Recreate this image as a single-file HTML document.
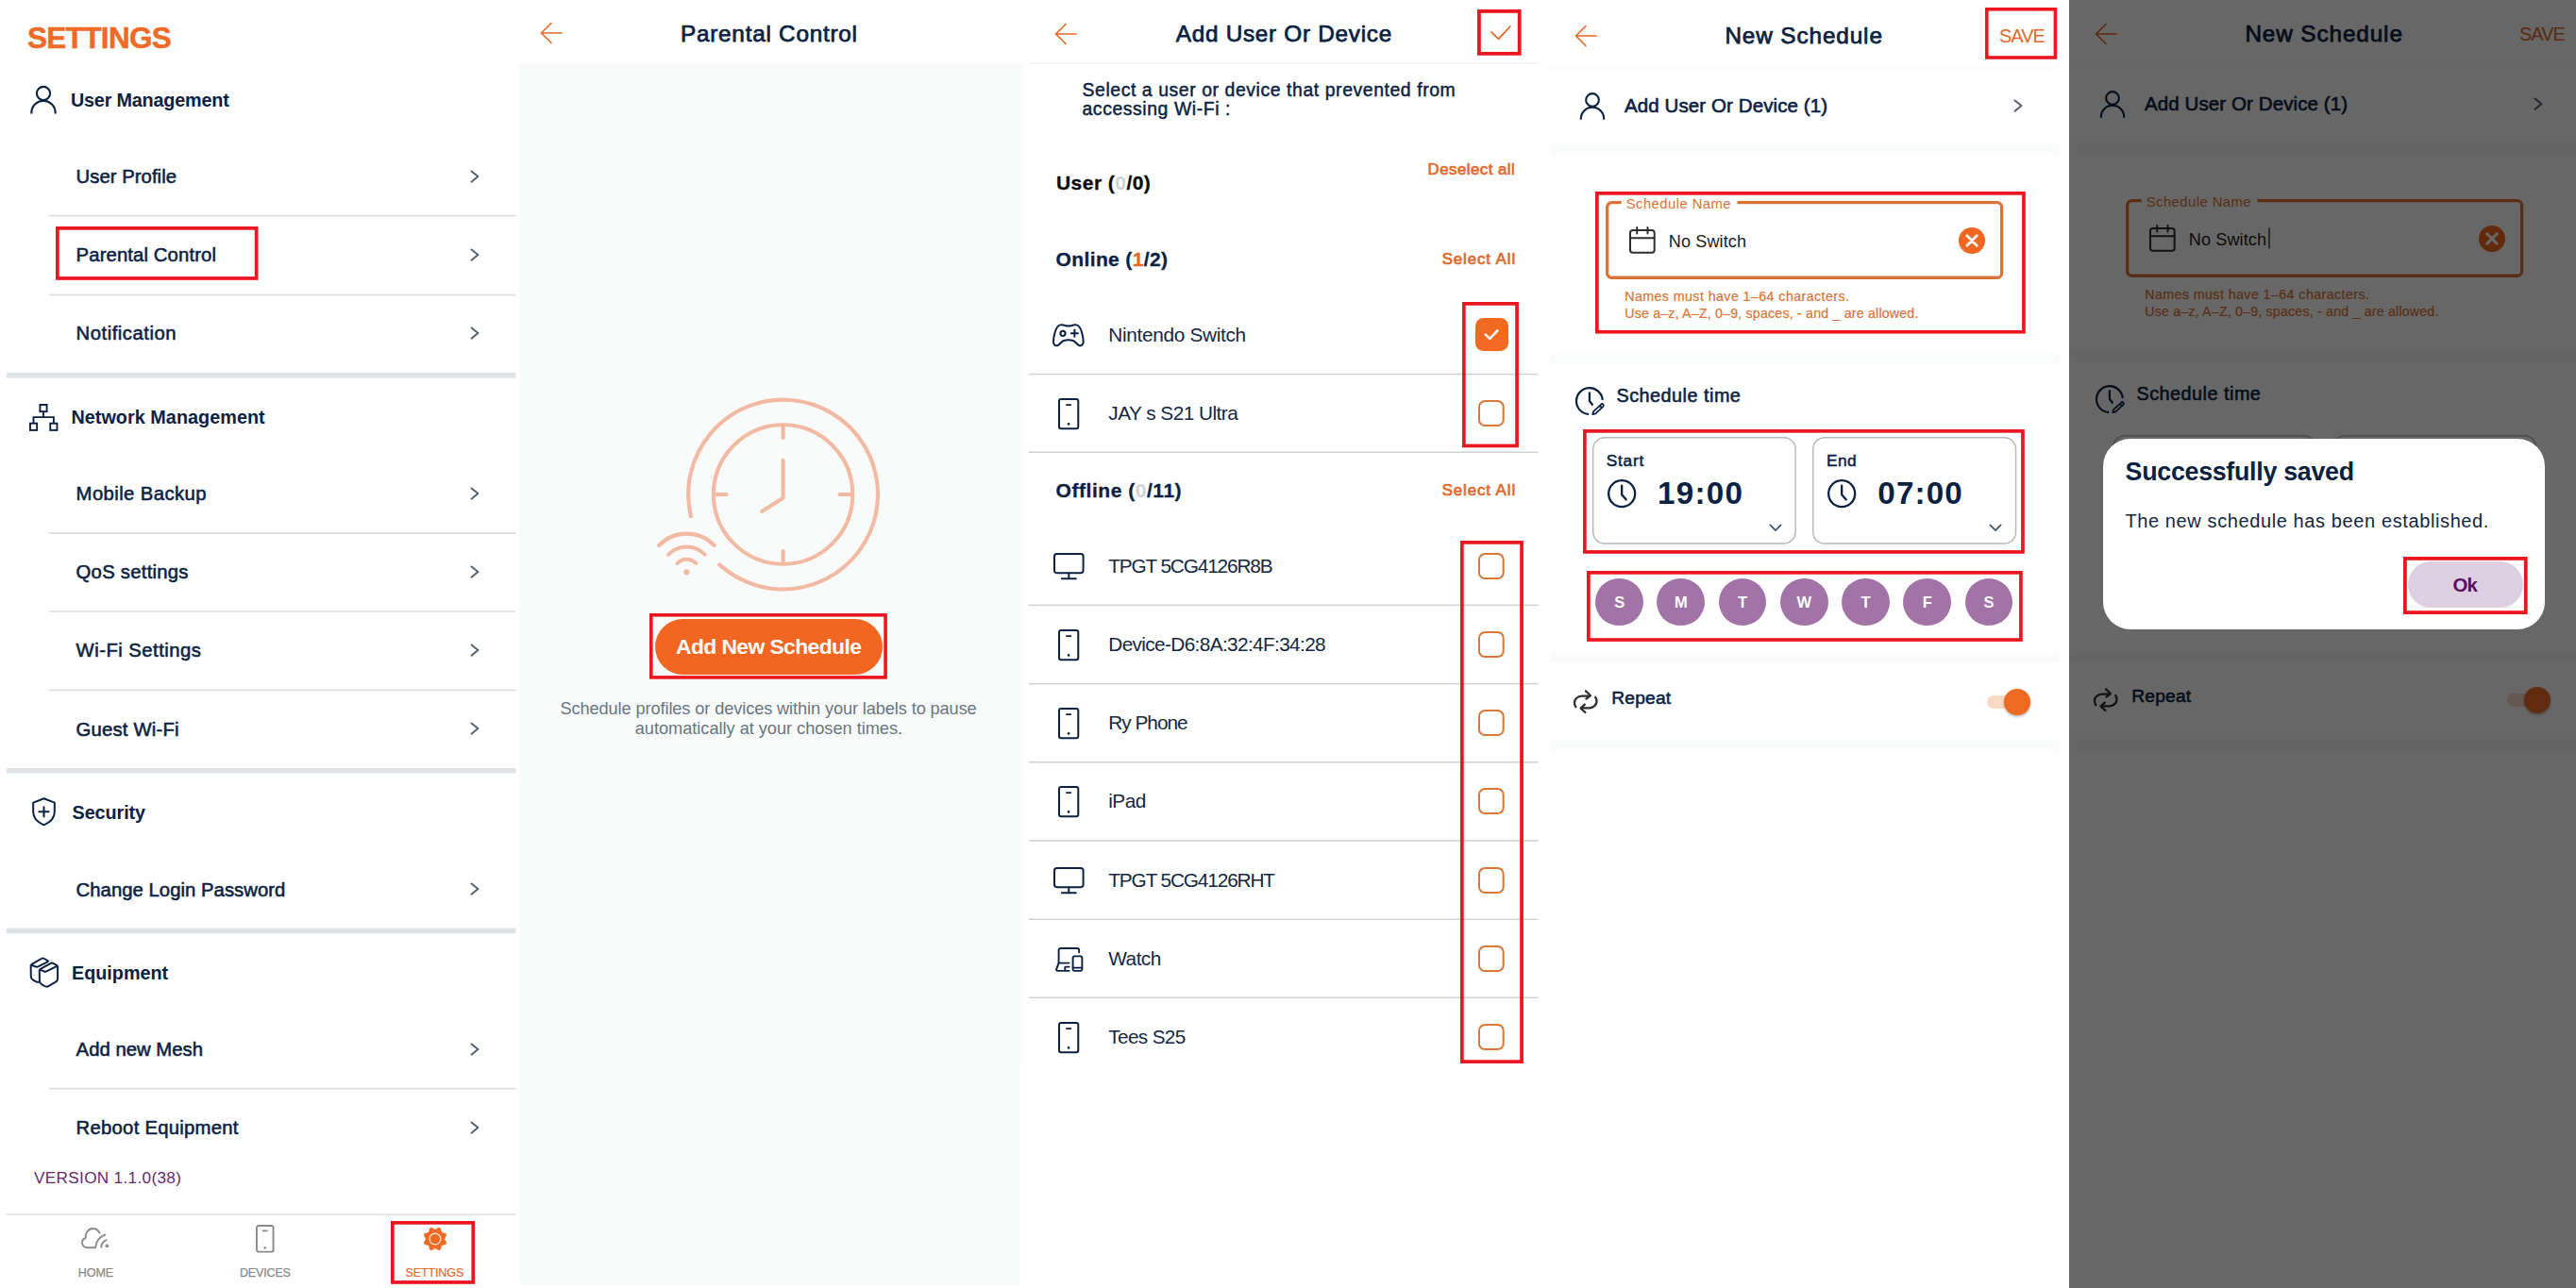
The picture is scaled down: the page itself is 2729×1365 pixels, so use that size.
<!DOCTYPE html>
<html lang="en"><head><meta charset="utf-8"><title>Parental Control - New Schedule</title>
<style>
html,body{margin:0;padding:0;background:#fff;}
body{width:2729px;height:1365px;position:relative;overflow:hidden;font-family:"Liberation Sans",sans-serif;}
.t{position:absolute;white-space:nowrap;margin:0;padding:0;}
.r{position:absolute;box-sizing:border-box;margin:0;padding:0;}
svg{overflow:visible;}
</style></head><body>
<div class="t" style="left:28.90px;top:22px;font-size:31.5px;line-height:36px;color:#f06a27;font-weight:700;letter-spacing:-0.646px;-webkit-text-stroke:0.50px #f06a27;">SETTINGS</div>
<svg class="r" style="left:30.0px;top:87.0px;" width="32.0" height="38.0" viewBox="-16 -12 32 38"><g fill="none" stroke="#0a2142" stroke-width="2.1"><circle cx="0" cy="0" r="7.12"/><path d="M-12.64 21.53 V20.54 A12.64 12.64 0 0 1 12.64 20.54 V21.53"/></g></svg>
<div class="t" style="left:74.90px;top:95px;font-size:19.8px;line-height:22px;color:#0a2142;font-weight:700;letter-spacing:-0.183px;">User Management</div>
<svg class="r" style="left:30.9px;top:427.5px;" width="30.4" height="28.8" viewBox="0 0 30.4 28.8"><g fill="none" stroke="#0a2142" stroke-width="1.9" stroke-linejoin="miter"><rect x="11.4" y="0.95" width="7.2" height="7.2"/><rect x="0.95" y="20.7" width="7.2" height="7.2"/><rect x="22.25" y="20.7" width="7.2" height="7.2"/><path d="M15 8.2 V14.1 M4.5 20.7 V14.1 H25.9 V20.7"/></g></svg>
<div class="t" style="left:75.40px;top:431px;font-size:19.8px;line-height:22px;color:#0a2142;font-weight:700;letter-spacing:0.050px;">Network Management</div>
<svg class="r" style="left:33.6px;top:845.3px;" width="25.0" height="30.5" viewBox="0 0 25 30.5"><g fill="none" stroke="#0a2142" stroke-width="2" stroke-linecap="round" stroke-linejoin="round"><path d="M12.5 1.2 L23.8 5.6 V15.5 C23.8 22 19 26.6 12.5 29.3 C6 26.6 1.2 22 1.2 15.5 V5.6 Z"/><path d="M12.5 10.2 V20.4 M7.4 15.3 H17.6"/></g></svg>
<div class="t" style="left:76.50px;top:850px;font-size:19.8px;line-height:22px;color:#0a2142;font-weight:700;letter-spacing:-0.063px;">Security</div>
<svg class="r" style="left:31.9px;top:1015.1px;" width="29.4" height="32.0" viewBox="0 0 29.4 32"><g fill="none" stroke="#0a2142" stroke-width="2" stroke-linecap="round" stroke-linejoin="round"><path d="M1.82 7.94 Q0.60 7.50 1.73 6.85 L12.27 0.75 Q13.40 0.10 14.52 0.75 L18.48 3.05 Q19.60 3.70 18.44 4.29 L8.46 9.31 Q7.30 9.90 6.08 9.46 Z"/><path d="M0.65 8.30 L0.78 20.10 Q0.80 22.30 2.73 23.35 L6.33 25.32 Q7.40 25.90 8.60 25.70 L9.80 25.50"/><path d="M10.90 12.89 Q9.70 12.40 10.84 11.78 L21.86 5.82 Q23.00 5.20 24.14 5.82 L27.96 7.88 Q29.10 8.50 27.94 9.08 L17.26 14.42 Q16.10 15.00 14.90 14.51 Z"/><path d="M9.75 13.20 L9.96 24.40 Q10.00 26.80 12.04 28.07 L15.16 30.03 Q17.20 31.30 19.28 30.10 L27.02 25.60 Q29.10 24.40 29.10 22.00 L29.10 9.30"/></g></svg>
<div class="t" style="left:76.00px;top:1020px;font-size:19.8px;line-height:22px;color:#0a2142;font-weight:700;letter-spacing:-0.012px;">Equipment</div>
<div class="t" style="left:80.60px;top:176px;font-size:20.3px;line-height:22px;color:#0a2142;letter-spacing:0.041px;-webkit-text-stroke:0.55px #0a2142;">User Profile</div>
<svg class="r" style="left:497.2px;top:178.9px;" width="11.9" height="16.2" viewBox="-2.000000 -2.000000 11.900000 16.200000"><path d="M0.5 0.5 L7.40 6.10 L0.5 11.70" fill="none" stroke="#56616f" stroke-width="2" stroke-linecap="round" stroke-linejoin="round"/></svg>
<div class="t" style="left:80.60px;top:259px;font-size:20.3px;line-height:22px;color:#0a2142;letter-spacing:0.120px;-webkit-text-stroke:0.55px #0a2142;">Parental Control</div>
<svg class="r" style="left:497.2px;top:262.1px;" width="11.9" height="16.2" viewBox="-2.000000 -2.000000 11.900000 16.200000"><path d="M0.5 0.5 L7.40 6.10 L0.5 11.70" fill="none" stroke="#56616f" stroke-width="2" stroke-linecap="round" stroke-linejoin="round"/></svg>
<div class="t" style="left:80.60px;top:342px;font-size:20.3px;line-height:22px;color:#0a2142;letter-spacing:0.507px;-webkit-text-stroke:0.55px #0a2142;">Notification</div>
<svg class="r" style="left:497.2px;top:345.2px;" width="11.9" height="16.2" viewBox="-2.000000 -2.000000 11.900000 16.200000"><path d="M0.5 0.5 L7.40 6.10 L0.5 11.70" fill="none" stroke="#56616f" stroke-width="2" stroke-linecap="round" stroke-linejoin="round"/></svg>
<div class="t" style="left:80.60px;top:512px;font-size:20.3px;line-height:22px;color:#0a2142;letter-spacing:0.404px;-webkit-text-stroke:0.55px #0a2142;">Mobile Backup</div>
<svg class="r" style="left:497.2px;top:514.9px;" width="11.9" height="16.2" viewBox="-2.000000 -2.000000 11.900000 16.200000"><path d="M0.5 0.5 L7.40 6.10 L0.5 11.70" fill="none" stroke="#56616f" stroke-width="2" stroke-linecap="round" stroke-linejoin="round"/></svg>
<div class="t" style="left:80.60px;top:595px;font-size:20.3px;line-height:22px;color:#0a2142;letter-spacing:0.253px;-webkit-text-stroke:0.55px #0a2142;">QoS settings</div>
<svg class="r" style="left:497.2px;top:598.3px;" width="11.9" height="16.2" viewBox="-2.000000 -2.000000 11.900000 16.200000"><path d="M0.5 0.5 L7.40 6.10 L0.5 11.70" fill="none" stroke="#56616f" stroke-width="2" stroke-linecap="round" stroke-linejoin="round"/></svg>
<div class="t" style="left:80.60px;top:678px;font-size:20.3px;line-height:22px;color:#0a2142;letter-spacing:0.474px;-webkit-text-stroke:0.55px #0a2142;">Wi-Fi Settings</div>
<svg class="r" style="left:497.2px;top:680.9px;" width="11.9" height="16.2" viewBox="-2.000000 -2.000000 11.900000 16.200000"><path d="M0.5 0.5 L7.40 6.10 L0.5 11.70" fill="none" stroke="#56616f" stroke-width="2" stroke-linecap="round" stroke-linejoin="round"/></svg>
<div class="t" style="left:80.60px;top:762px;font-size:20.3px;line-height:22px;color:#0a2142;letter-spacing:0.186px;-webkit-text-stroke:0.55px #0a2142;">Guest Wi-Fi</div>
<svg class="r" style="left:497.2px;top:764.4px;" width="11.9" height="16.2" viewBox="-2.000000 -2.000000 11.900000 16.200000"><path d="M0.5 0.5 L7.40 6.10 L0.5 11.70" fill="none" stroke="#56616f" stroke-width="2" stroke-linecap="round" stroke-linejoin="round"/></svg>
<div class="t" style="left:80.60px;top:932px;font-size:20.3px;line-height:22px;color:#0a2142;letter-spacing:0.040px;-webkit-text-stroke:0.55px #0a2142;">Change Login Password</div>
<svg class="r" style="left:497.2px;top:934.4px;" width="11.9" height="16.2" viewBox="-2.000000 -2.000000 11.900000 16.200000"><path d="M0.5 0.5 L7.40 6.10 L0.5 11.70" fill="none" stroke="#56616f" stroke-width="2" stroke-linecap="round" stroke-linejoin="round"/></svg>
<div class="t" style="left:80.60px;top:1101px;font-size:20.3px;line-height:22px;color:#0a2142;letter-spacing:0.020px;-webkit-text-stroke:0.55px #0a2142;">Add new Mesh</div>
<svg class="r" style="left:497.2px;top:1103.7px;" width="11.9" height="16.2" viewBox="-2.000000 -2.000000 11.900000 16.200000"><path d="M0.5 0.5 L7.40 6.10 L0.5 11.70" fill="none" stroke="#56616f" stroke-width="2" stroke-linecap="round" stroke-linejoin="round"/></svg>
<div class="t" style="left:80.60px;top:1184px;font-size:20.3px;line-height:22px;color:#0a2142;letter-spacing:0.256px;-webkit-text-stroke:0.55px #0a2142;">Reboot Equipment</div>
<svg class="r" style="left:497.2px;top:1186.6px;" width="11.9" height="16.2" viewBox="-2.000000 -2.000000 11.900000 16.200000"><path d="M0.5 0.5 L7.40 6.10 L0.5 11.70" fill="none" stroke="#56616f" stroke-width="2" stroke-linecap="round" stroke-linejoin="round"/></svg>
<svg class="r" style="left:50px;top:226px" width="498" height="5" viewBox="50 226 498 5"><rect x="51.60" y="227.75" width="494.90" height="1.70" fill="#dddfe1"/></svg>
<svg class="r" style="left:50px;top:310px" width="498" height="5" viewBox="50 310 498 5"><rect x="51.60" y="311.65" width="494.90" height="1.70" fill="#dddfe1"/></svg>
<svg class="r" style="left:50px;top:563px" width="498" height="4" viewBox="50 563 498 4"><rect x="51.60" y="564.15" width="494.90" height="1.70" fill="#dddfe1"/></svg>
<svg class="r" style="left:50px;top:646px" width="498" height="4" viewBox="50 646 498 4"><rect x="51.60" y="647.15" width="494.90" height="1.70" fill="#dddfe1"/></svg>
<svg class="r" style="left:50px;top:729px" width="498" height="5" viewBox="50 729 498 5"><rect x="51.60" y="730.55" width="494.90" height="1.70" fill="#dddfe1"/></svg>
<svg class="r" style="left:50px;top:1151px" width="498" height="5" viewBox="50 1151 498 5"><rect x="51.60" y="1152.75" width="494.90" height="1.70" fill="#dddfe1"/></svg>
<svg class="r" style="left:6px;top:394px" width="542" height="8" viewBox="6 394 542 8"><rect x="7.00" y="395.00" width="539.50" height="5.70" fill="#dee2e5"/></svg>
<svg class="r" style="left:6px;top:813px" width="542" height="8" viewBox="6 813 542 8"><rect x="7.00" y="814.00" width="539.50" height="5.30" fill="#dee2e5"/></svg>
<svg class="r" style="left:6px;top:982px" width="542" height="9" viewBox="6 982 542 9"><rect x="7.00" y="983.60" width="539.50" height="5.60" fill="#dee2e5"/></svg>
<svg class="r" style="left:59.10px;top:239.70px;" width="214.50" height="56.80" viewBox="0 0 214.50 56.80"><rect x="1.85" y="1.85" width="210.80" height="53.10" rx="0.00" fill="none" stroke="#eb1620" stroke-width="3.70"/></svg>
<div class="t" style="left:36.00px;top:1238px;font-size:17.2px;line-height:20px;color:#6a2a68;letter-spacing:0.310px;">VERSION 1.1.0(38)</div>
<svg class="r" style="left:6px;top:1285px" width="542" height="4" viewBox="6 1285 542 4"><rect x="7.00" y="1286.00" width="539.50" height="2.00" fill="#e6e6e6"/></svg>
<svg class="r" style="left:85.5px;top:1301.3px;" width="29.4" height="22.3" viewBox="0 0 29.4 22.3"><g fill="none" stroke="#8a8a8a" stroke-width="1.9" stroke-linecap="round" stroke-linejoin="round"><path d="M15 21.3 H6.6 C3.4 21.3 1 19 1 16 C1 13.6 2.4 11.8 4.6 11 C4.2 5.6 7.6 1 12.4 1 C15.6 1 18.2 2.8 19.4 5.6"/><path d="M15.2 21 C15.8 14.6 19.8 9.6 25.4 7.4"/><path d="M21.2 20.6 C21.6 17.4 23.6 14.6 26.6 13.2"/></g><circle cx="27.3" cy="19.4" r="1.8" fill="#8a8a8a"/></svg>
<div class="t" style="left:82.75px;top:1342px;font-size:12.6px;line-height:14px;color:#8a8a8a;letter-spacing:-0.100px;-webkit-text-stroke:0.25px #8a8a8a;">HOME</div>
<svg class="r" style="left:270.9px;top:1298.0px;" width="19.5" height="29.6" viewBox="0 0 19.5 29.6"><rect x="0.95" y="0.95" width="17.6" height="27.700000000000003" rx="2.2" fill="none" stroke="#8a8a8a" stroke-width="1.9"/><path d="M7.55 6.3048 H11.95" stroke="#8a8a8a" stroke-width="1.71" stroke-linecap="round"/><circle cx="9.75" cy="24.4496" r="1.3" fill="#8a8a8a"/></svg>
<div class="t" style="left:254.00px;top:1342px;font-size:12.6px;line-height:14px;color:#8a8a8a;letter-spacing:-0.220px;-webkit-text-stroke:0.25px #8a8a8a;">DEVICES</div>
<svg class="r" style="left:446.7px;top:1298.6px;" width="28.0" height="28.0" viewBox="-14 -14 28 28"><path d="M10.20 0.00 L10.22 0.40 L10.30 0.81 L10.47 1.24 L10.78 1.71 L11.23 2.23 L11.65 2.80 L11.90 3.36 L11.96 3.89 L11.89 4.39 L11.73 4.86 L11.51 5.31 L11.20 5.71 L10.79 6.04 L10.22 6.26 L9.52 6.36 L8.83 6.42 L8.28 6.52 L7.85 6.71 L7.51 6.94 L7.21 7.21 L6.94 7.51 L6.71 7.85 L6.52 8.28 L6.42 8.83 L6.36 9.52 L6.26 10.22 L6.04 10.79 L5.71 11.20 L5.31 11.51 L4.86 11.73 L4.39 11.89 L3.89 11.96 L3.36 11.90 L2.80 11.65 L2.23 11.23 L1.71 10.78 L1.24 10.47 L0.81 10.30 L0.40 10.22 L0.00 10.20 L-0.40 10.22 L-0.81 10.30 L-1.24 10.47 L-1.71 10.78 L-2.23 11.23 L-2.80 11.65 L-3.36 11.90 L-3.89 11.96 L-4.39 11.89 L-4.86 11.73 L-5.31 11.51 L-5.71 11.20 L-6.04 10.79 L-6.26 10.22 L-6.36 9.52 L-6.42 8.83 L-6.52 8.28 L-6.71 7.85 L-6.94 7.51 L-7.21 7.21 L-7.51 6.94 L-7.85 6.71 L-8.28 6.52 L-8.83 6.42 L-9.52 6.36 L-10.22 6.26 L-10.79 6.04 L-11.20 5.71 L-11.51 5.31 L-11.73 4.86 L-11.89 4.39 L-11.96 3.89 L-11.90 3.36 L-11.65 2.80 L-11.23 2.23 L-10.78 1.71 L-10.47 1.24 L-10.30 0.81 L-10.22 0.40 L-10.20 0.00 L-10.22 -0.40 L-10.30 -0.81 L-10.47 -1.24 L-10.78 -1.71 L-11.23 -2.23 L-11.65 -2.80 L-11.90 -3.36 L-11.96 -3.89 L-11.89 -4.39 L-11.73 -4.86 L-11.51 -5.31 L-11.20 -5.71 L-10.79 -6.04 L-10.22 -6.26 L-9.52 -6.36 L-8.83 -6.42 L-8.28 -6.52 L-7.85 -6.71 L-7.51 -6.94 L-7.21 -7.21 L-6.94 -7.51 L-6.71 -7.85 L-6.52 -8.28 L-6.42 -8.83 L-6.36 -9.52 L-6.26 -10.22 L-6.04 -10.79 L-5.71 -11.20 L-5.31 -11.51 L-4.86 -11.73 L-4.39 -11.89 L-3.89 -11.96 L-3.36 -11.90 L-2.80 -11.65 L-2.23 -11.23 L-1.71 -10.78 L-1.24 -10.47 L-0.81 -10.30 L-0.40 -10.22 L-0.00 -10.20 L0.40 -10.22 L0.81 -10.30 L1.24 -10.47 L1.71 -10.78 L2.23 -11.23 L2.80 -11.65 L3.36 -11.90 L3.89 -11.96 L4.39 -11.89 L4.86 -11.73 L5.31 -11.51 L5.71 -11.20 L6.04 -10.79 L6.26 -10.22 L6.36 -9.52 L6.42 -8.83 L6.52 -8.28 L6.71 -7.85 L6.94 -7.51 L7.21 -7.21 L7.51 -6.94 L7.85 -6.71 L8.28 -6.52 L8.83 -6.42 L9.52 -6.36 L10.22 -6.26 L10.79 -6.04 L11.20 -5.71 L11.51 -5.31 L11.73 -4.86 L11.89 -4.39 L11.96 -3.89 L11.90 -3.36 L11.65 -2.80 L11.23 -2.23 L10.78 -1.71 L10.47 -1.24 L10.30 -0.81 L10.22 -0.40 Z" fill="#f26a23"/><circle cx="0" cy="0" r="5.9" fill="none" stroke="#fff3e6" stroke-width="1.2"/></svg>
<div class="t" style="left:429.40px;top:1342px;font-size:12.6px;line-height:14px;color:#e2692d;letter-spacing:-0.144px;-webkit-text-stroke:0.20px #e2692d;">SETTINGS</div>
<svg class="r" style="left:414.00px;top:1294.30px;" width="89.10" height="66.80" viewBox="0 0 89.10 66.80"><rect x="1.85" y="1.85" width="85.40" height="63.10" rx="0.00" fill="none" stroke="#eb1620" stroke-width="3.70"/></svg>
<div class="r" style="left:550.3px;top:67.0px;width:533.4px;height:1061.0px;background:#f9fbfb;"></div>
<div class="r" style="left:550.3px;top:1128.0px;width:530.1px;height:233.5px;background:#f9fbfb;"></div>
<svg class="r" style="left:571.0px;top:22.4px;" width="28.0" height="26.0" viewBox="-2 -13 28 26"><path d="M22 0 H0.8 M11 -10.5 L0.5 0 L11 10.5" fill="none" stroke="#e8692a" stroke-width="1.7" stroke-linecap="round" stroke-linejoin="round"/></svg>
<div class="t" style="left:721.00px;top:22px;font-size:24.3px;line-height:27px;color:#0a2142;letter-spacing:0.760px;-webkit-text-stroke:0.75px #0a2142;">Parental Control</div>
<svg class="r" style="left:650.0px;top:400.0px;" width="310.0" height="250.0" viewBox="650 400 310 250"><g fill="none" stroke="#f2baa2" stroke-width="4.1" stroke-linecap="round" stroke-linejoin="round"><path d="M731.93 547.27 A100.4 100.4 0 1 1 762.16 598.38"/><circle cx="829.6" cy="524.0" r="73.7"/><path d="M829.6 453.0 V464.0 M829.6 584.0 V595.0 M758.6 524.0 H769.6 M889.6 524.0 H900.6"/><path d="M829.6 487.8 V527.8 L807.1 541.9"/><path d="M717.62 596.85 A13.6 13.6 0 0 1 737.18 596.85"/><path d="M708.12 587.68 A26.8 26.8 0 0 1 746.68 587.68"/><path d="M698.12 578.03 A40.7 40.7 0 0 1 756.68 578.03"/></g><circle cx="727.4" cy="606.3" r="3.1" fill="#f2baa2"/></svg>
<div class="r" style="left:693.6px;top:655.8px;width:241.1px;height:59.2px;background:#f26622;border-radius:30.0px;"></div>
<div class="t" style="left:716.00px;top:672px;font-size:22.9px;line-height:26px;color:#ffffff;font-weight:700;letter-spacing:-0.609px;">Add New Schedule</div>
<svg class="r" style="left:688.40px;top:649.80px;" width="251.90" height="69.70" viewBox="0 0 251.90 69.70"><rect x="1.80" y="1.80" width="248.30" height="66.10" rx="0.00" fill="none" stroke="#eb1620" stroke-width="3.60"/></svg>
<div class="t" style="left:593.55px;top:741px;font-size:18.2px;line-height:20px;color:#697682;letter-spacing:-0.103px;">Schedule profiles or devices within your labels to pause</div>
<div class="t" style="left:672.75px;top:762px;font-size:18.2px;line-height:20px;color:#697682;letter-spacing:-0.022px;">automatically at your chosen times.</div>
<svg class="r" style="left:1116.0px;top:22.6px;" width="28.0" height="26.0" viewBox="-2 -13 28 26"><path d="M22 0 H0.8 M11 -10.5 L0.5 0 L11 10.5" fill="none" stroke="#e8692a" stroke-width="1.7" stroke-linecap="round" stroke-linejoin="round"/></svg>
<div class="t" style="left:1245.75px;top:22px;font-size:24.3px;line-height:27px;color:#0a2142;letter-spacing:0.731px;-webkit-text-stroke:0.75px #0a2142;">Add User Or Device</div>
<svg class="r" style="left:1578.2px;top:26.3px;" width="23.8" height="17.3" viewBox="-2 -2 23.799999999999955 17.3"><path d="M0 5.852 L7.523999999999983 13.3 L19.799999999999955 0" fill="none" stroke="#e8692a" stroke-width="1.8" stroke-linecap="round" stroke-linejoin="round"/></svg>
<svg class="r" style="left:1565.10px;top:10.05px;" width="46.60" height="48.75" viewBox="0 0 46.60 48.75"><rect x="1.90" y="1.90" width="42.80" height="44.95" rx="0.00" fill="none" stroke="#eb1620" stroke-width="3.80"/></svg>
<svg class="r" style="left:1089px;top:65px" width="542" height="4" viewBox="1089 65 542 4"><rect x="1090.00" y="66.00" width="540.00" height="2.00" fill="#f4f6f6"/></svg>
<div class="t" style="left:1146.50px;top:84px;font-size:19.4px;line-height:22px;color:#0a2142;letter-spacing:0.582px;-webkit-text-stroke:0.45px #0a2142;">Select a user or device that prevented from</div>
<div class="t" style="left:1146.50px;top:104px;font-size:19.4px;line-height:22px;color:#0a2142;letter-spacing:0.582px;-webkit-text-stroke:0.45px #0a2142;">accessing Wi-Fi :</div>
<div class="t" style="left:1119.00px;top:182px;font-size:21.0px;line-height:23px;color:#0a0a0a;font-weight:700;letter-spacing:0.454px;-webkit-text-stroke:0.30px #0a0a0a;">User (<span style="color:#cfd3d7;-webkit-text-stroke:0">0</span>/0)</div>
<div class="t" style="left:1512.60px;top:170px;font-size:16.8px;line-height:19px;color:#e2692d;letter-spacing:0.487px;-webkit-text-stroke:0.70px #e2692d;">Deselect all</div>
<div class="t" style="left:1118.60px;top:263px;font-size:21.0px;line-height:23px;color:#0a2142;font-weight:700;letter-spacing:0.368px;-webkit-text-stroke:0.30px #0a2142;">Online (<span style="color:#e8652a;-webkit-text-stroke-color:#e8652a">1</span>/2)</div>
<div class="t" style="left:1527.70px;top:265px;font-size:16.8px;line-height:19px;color:#e2692d;letter-spacing:0.933px;-webkit-text-stroke:0.70px #e2692d;">Select All</div>
<div class="t" style="left:1118.60px;top:508px;font-size:21.0px;line-height:23px;color:#0a2142;font-weight:700;letter-spacing:0.536px;-webkit-text-stroke:0.30px #0a2142;">Offline (<span style="color:#cfd3d7;-webkit-text-stroke:0">0</span>/11)</div>
<div class="t" style="left:1527.70px;top:510px;font-size:16.8px;line-height:19px;color:#e2692d;letter-spacing:0.933px;-webkit-text-stroke:0.70px #e2692d;">Select All</div>
<div class="t" style="left:1174.30px;top:343px;font-size:20.8px;line-height:23px;color:#15263f;letter-spacing:-0.315px;">Nintendo Switch</div>
<svg class="r" style="left:1115.2px;top:342.7px;" width="33.7" height="24.5" viewBox="0 0 33.7 24.5"><g fill="none" stroke="#0a2142" stroke-width="2" stroke-linecap="round" stroke-linejoin="round"><path d="M8.2 1.4 C10 0.9 11.8 1.4 13.4 2 C15.6 2.6 18.1 2.6 20.3 2 C21.9 1.4 23.7 0.9 25.5 1.4 C28.6 2.3 30.3 6 31.3 10 C32.4 14.4 33 18.4 32.5 20.6 C32 23 29.6 24 27.7 22.9 C25.6 21.7 24.4 18.9 21.8 18 C19.4 17.2 14.3 17.2 11.9 18 C9.3 18.9 8.1 21.7 6 22.9 C4.1 24 1.7 23 1.2 20.6 C0.7 18.4 1.3 14.4 2.4 10 C3.4 6 5.1 2.3 8.2 1.4 Z"/><circle cx="11" cy="10.3" r="2.6"/><path d="M23.4 6.6 V13.8 M19.8 10.2 H27"/></g></svg>
<div class="r" style="left:1562.9px;top:337.1px;width:35.0px;height:35.0px;background:#f26a21;border-radius:8.5px;"></div>
<svg class="r" style="left:1568.0px;top:344.8px;" width="24.0" height="20.0" viewBox="-12 -10 24 20"><path d="M-6.2 -0.4 L-1.7 3.9 L6.3 -4.5" fill="none" stroke="#fff" stroke-width="2.6" stroke-linecap="round" stroke-linejoin="round"/></svg>
<div class="t" style="left:1174.30px;top:426px;font-size:20.8px;line-height:23px;color:#15263f;letter-spacing:-0.528px;">JAY s S21 Ultra</div>
<svg class="r" style="left:1121.2px;top:421.5px;" width="22.3" height="33.2" viewBox="0 0 22.3 33.2"><rect x="1.0" y="1.0" width="20.3" height="31.200000000000003" rx="2.2" fill="none" stroke="#0a2142" stroke-width="2.0"/><path d="M8.95 7.0716 H13.350000000000001" stroke="#0a2142" stroke-width="1.8" stroke-linecap="round"/><circle cx="11.15" cy="27.4232" r="1.3" fill="#0a2142"/></svg>
<svg class="r" style="left:1566.30px;top:423.85px;" width="27.70" height="28.10" viewBox="0 0 27.70 28.10"><rect x="1.00" y="1.00" width="25.70" height="26.10" rx="6.20" fill="none" stroke="#dc7637" stroke-width="2.00"/></svg>
<div class="t" style="left:1174.30px;top:588px;font-size:20.8px;line-height:23px;color:#15263f;letter-spacing:-1.148px;">TPGT 5CG4126R8B</div>
<svg class="r" style="left:1116.1px;top:586.0px;" width="32.6" height="28.2" viewBox="0 0 32.6 28.2"><g fill="none" stroke="#0a2142" stroke-width="2" stroke-linecap="round" stroke-linejoin="round"><rect x="1" y="1" width="30.6" height="20.2" rx="2.6"/><path d="M16.3 21.4 V27 M8.8 27.2 H23.8"/></g></svg>
<svg class="r" style="left:1566.30px;top:585.75px;" width="27.70" height="28.10" viewBox="0 0 27.70 28.10"><rect x="1.00" y="1.00" width="25.70" height="26.10" rx="6.20" fill="none" stroke="#dc7637" stroke-width="2.00"/></svg>
<div class="t" style="left:1174.30px;top:671px;font-size:20.8px;line-height:23px;color:#15263f;letter-spacing:-0.640px;">Device-D6:8A:32:4F:34:28</div>
<svg class="r" style="left:1121.2px;top:666.6px;" width="22.3" height="33.2" viewBox="0 0 22.3 33.2"><rect x="1.0" y="1.0" width="20.3" height="31.200000000000003" rx="2.2" fill="none" stroke="#0a2142" stroke-width="2.0"/><path d="M8.95 7.0716 H13.350000000000001" stroke="#0a2142" stroke-width="1.8" stroke-linecap="round"/><circle cx="11.15" cy="27.4232" r="1.3" fill="#0a2142"/></svg>
<svg class="r" style="left:1566.30px;top:668.95px;" width="27.70" height="28.10" viewBox="0 0 27.70 28.10"><rect x="1.00" y="1.00" width="25.70" height="26.10" rx="6.20" fill="none" stroke="#dc7637" stroke-width="2.00"/></svg>
<div class="t" style="left:1174.30px;top:754px;font-size:20.8px;line-height:23px;color:#15263f;letter-spacing:-1.007px;">Ry Phone</div>
<svg class="r" style="left:1121.2px;top:749.9px;" width="22.3" height="33.2" viewBox="0 0 22.3 33.2"><rect x="1.0" y="1.0" width="20.3" height="31.200000000000003" rx="2.2" fill="none" stroke="#0a2142" stroke-width="2.0"/><path d="M8.95 7.0716 H13.350000000000001" stroke="#0a2142" stroke-width="1.8" stroke-linecap="round"/><circle cx="11.15" cy="27.4232" r="1.3" fill="#0a2142"/></svg>
<svg class="r" style="left:1566.30px;top:752.25px;" width="27.70" height="28.10" viewBox="0 0 27.70 28.10"><rect x="1.00" y="1.00" width="25.70" height="26.10" rx="6.20" fill="none" stroke="#dc7637" stroke-width="2.00"/></svg>
<div class="t" style="left:1174.30px;top:837px;font-size:20.8px;line-height:23px;color:#15263f;letter-spacing:-0.544px;">iPad</div>
<svg class="r" style="left:1121.2px;top:833.0px;" width="22.3" height="33.2" viewBox="0 0 22.3 33.2"><rect x="1.0" y="1.0" width="20.3" height="31.200000000000003" rx="2.2" fill="none" stroke="#0a2142" stroke-width="2.0"/><path d="M8.95 7.0716 H13.350000000000001" stroke="#0a2142" stroke-width="1.8" stroke-linecap="round"/><circle cx="11.15" cy="27.4232" r="1.3" fill="#0a2142"/></svg>
<svg class="r" style="left:1566.30px;top:835.35px;" width="27.70" height="28.10" viewBox="0 0 27.70 28.10"><rect x="1.00" y="1.00" width="25.70" height="26.10" rx="6.20" fill="none" stroke="#dc7637" stroke-width="2.00"/></svg>
<div class="t" style="left:1174.30px;top:921px;font-size:20.8px;line-height:23px;color:#15263f;letter-spacing:-1.133px;">TPGT 5CG4126RHT</div>
<svg class="r" style="left:1116.1px;top:919.0px;" width="32.6" height="28.2" viewBox="0 0 32.6 28.2"><g fill="none" stroke="#0a2142" stroke-width="2" stroke-linecap="round" stroke-linejoin="round"><rect x="1" y="1" width="30.6" height="20.2" rx="2.6"/><path d="M16.3 21.4 V27 M8.8 27.2 H23.8"/></g></svg>
<svg class="r" style="left:1566.30px;top:918.75px;" width="27.70" height="28.10" viewBox="0 0 27.70 28.10"><rect x="1.00" y="1.00" width="25.70" height="26.10" rx="6.20" fill="none" stroke="#dc7637" stroke-width="2.00"/></svg>
<div class="t" style="left:1174.30px;top:1004px;font-size:20.8px;line-height:23px;color:#15263f;letter-spacing:-0.544px;">Watch</div>
<svg class="r" style="left:1117.9px;top:1003.6px;" width="29.4" height="25.9" viewBox="0 0 29.4 25.9"><g fill="none" stroke="#0a2142" stroke-width="1.9" stroke-linecap="round" stroke-linejoin="round"><path d="M3.6 16.6 V3.2 C3.6 1.8 4.4 1 5.8 1 H23 C24.4 1 25.2 1.8 25.2 3.2 V5.4"/><path d="M3.6 16.6 H14.6 M3.6 16.6 L1.1 23.4 C0.9 24.3 1.4 24.9 2.3 24.9 H14.6 M10.2 24.6 V21.6 C10.2 21 10.6 20.6 11.2 20.6 H14.6"/><rect x="18.6" y="9.4" width="9.8" height="15.5" rx="1.8"/><path d="M18.8 21.6 H28.2"/></g></svg>
<svg class="r" style="left:1566.30px;top:1001.95px;" width="27.70" height="28.10" viewBox="0 0 27.70 28.10"><rect x="1.00" y="1.00" width="25.70" height="26.10" rx="6.20" fill="none" stroke="#dc7637" stroke-width="2.00"/></svg>
<div class="t" style="left:1174.30px;top:1087px;font-size:20.8px;line-height:23px;color:#15263f;letter-spacing:-0.675px;">Tees S25</div>
<svg class="r" style="left:1121.2px;top:1082.8px;" width="22.3" height="33.2" viewBox="0 0 22.3 33.2"><rect x="1.0" y="1.0" width="20.3" height="31.200000000000003" rx="2.2" fill="none" stroke="#0a2142" stroke-width="2.0"/><path d="M8.95 7.0716 H13.350000000000001" stroke="#0a2142" stroke-width="1.8" stroke-linecap="round"/><circle cx="11.15" cy="27.4232" r="1.3" fill="#0a2142"/></svg>
<svg class="r" style="left:1566.30px;top:1085.15px;" width="27.70" height="28.10" viewBox="0 0 27.70 28.10"><rect x="1.00" y="1.00" width="25.70" height="26.10" rx="6.20" fill="none" stroke="#dc7637" stroke-width="2.00"/></svg>
<svg class="r" style="left:1089px;top:394px" width="542" height="5" viewBox="1089 394 542 5"><rect x="1090.00" y="395.75" width="539.50" height="1.50" fill="#cfd1d3"/></svg>
<svg class="r" style="left:1089px;top:477px" width="542" height="5" viewBox="1089 477 542 5"><rect x="1090.00" y="478.55" width="539.50" height="1.50" fill="#cfd1d3"/></svg>
<svg class="r" style="left:1089px;top:639px" width="542" height="5" viewBox="1089 639 542 5"><rect x="1090.00" y="640.65" width="539.50" height="1.50" fill="#cfd1d3"/></svg>
<svg class="r" style="left:1089px;top:722px" width="542" height="5" viewBox="1089 722 542 5"><rect x="1090.00" y="723.85" width="539.50" height="1.50" fill="#cfd1d3"/></svg>
<svg class="r" style="left:1089px;top:806px" width="542" height="4" viewBox="1089 806 542 4"><rect x="1090.00" y="807.05" width="539.50" height="1.50" fill="#cfd1d3"/></svg>
<svg class="r" style="left:1089px;top:889px" width="542" height="4" viewBox="1089 889 542 4"><rect x="1090.00" y="890.25" width="539.50" height="1.50" fill="#cfd1d3"/></svg>
<svg class="r" style="left:1089px;top:972px" width="542" height="5" viewBox="1089 972 542 5"><rect x="1090.00" y="973.55" width="539.50" height="1.50" fill="#cfd1d3"/></svg>
<svg class="r" style="left:1089px;top:1055px" width="542" height="5" viewBox="1089 1055 542 5"><rect x="1090.00" y="1056.55" width="539.50" height="1.50" fill="#cfd1d3"/></svg>
<svg class="r" style="left:1549.30px;top:319.80px;" width="59.90" height="154.30" viewBox="0 0 59.90 154.30"><rect x="1.85" y="1.85" width="56.20" height="150.60" rx="0.00" fill="none" stroke="#eb1620" stroke-width="3.70"/></svg>
<svg class="r" style="left:1547.10px;top:573.00px;" width="66.90" height="554.00" viewBox="0 0 66.90 554.00"><rect x="1.85" y="1.85" width="63.20" height="550.30" rx="0.00" fill="none" stroke="#eb1620" stroke-width="3.70"/></svg>
<svg class="r" style="left:1667.3px;top:24.8px;" width="28.0" height="26.0" viewBox="-2 -13 28 26"><path d="M22 0 H0.8 M11 -10.5 L0.5 0 L11 10.5" fill="none" stroke="#e8692a" stroke-width="1.7" stroke-linecap="round" stroke-linejoin="round"/></svg>
<div class="t" style="left:1827.45px;top:24px;font-size:24.3px;line-height:27px;color:#0a2142;letter-spacing:0.891px;-webkit-text-stroke:0.75px #0a2142;">New Schedule</div>
<div class="t" style="left:2118.00px;top:27px;font-size:20.0px;line-height:22px;color:#e2692d;letter-spacing:-1.026px;">SAVE</div>
<svg class="r" style="left:2102.90px;top:8.00px;" width="76.20" height="54.80" viewBox="0 0 76.20 54.80"><rect x="1.80" y="1.80" width="72.60" height="51.20" rx="0.00" fill="none" stroke="#eb1620" stroke-width="3.60"/></svg>
<svg class="r" style="left:1640px;top:67px" width="543" height="8" viewBox="1640 67 543 8"><rect x="1641.50" y="68.50" width="540.50" height="5.00" fill="#fbfcfc"/></svg>
<div class="r" style="left:1641.5px;top:153.4px;width:540.5px;height:11.0px;background:#fafbfb;"></div>
<div class="r" style="left:1641.5px;top:375.0px;width:540.5px;height:10.7px;background:#fafbfb;"></div>
<div class="r" style="left:1641.5px;top:691.6px;width:540.5px;height:10.9px;background:#fafbfb;"></div>
<div class="r" style="left:1641.5px;top:785.0px;width:540.5px;height:11.0px;background:#fafbfb;"></div>
<svg class="r" style="left:1671.0px;top:93.8px;" width="32.0" height="38.0" viewBox="-16 -12 32 38"><g fill="none" stroke="#0a2142" stroke-width="2.1"><circle cx="0" cy="0" r="6.85"/><path d="M-12.15 20.70 V19.75 A12.15 12.15 0 0 1 12.15 19.75 V20.70"/></g></svg>
<div class="t" style="left:1721.00px;top:100px;font-size:20.5px;line-height:23px;color:#0a2142;letter-spacing:0.094px;-webkit-text-stroke:0.60px #0a2142;">Add User Or Device (1)</div>
<svg class="r" style="left:2132.1px;top:104.4px;" width="11.9" height="16.2" viewBox="-2.000000 -2.000000 11.900000 16.200000"><path d="M0.5 0.5 L7.40 6.10 L0.5 11.70" fill="none" stroke="#56616f" stroke-width="2" stroke-linecap="round" stroke-linejoin="round"/></svg>
<svg class="r" style="left:1700.90px;top:213.30px;" width="421.30" height="82.90" viewBox="0 0 421.30 82.90"><rect x="1.65" y="1.65" width="418.00" height="79.60" rx="4.85" fill="none" stroke="#dc7336" stroke-width="3.30"/></svg>
<svg class="r" style="left:1716px;top:211px" width="126" height="8" viewBox="1716 211 126 8"><rect x="1717.70" y="212.00" width="122.80" height="6.00" fill="#ffffff"/></svg>
<div class="t" style="left:1722.70px;top:208px;font-size:14.9px;line-height:16px;color:#dc7336;letter-spacing:0.415px;">Schedule Name</div>
<svg class="r" style="left:1726.4px;top:240.0px;" width="27.7" height="28.7" viewBox="0 0 27.7 28.7"><g fill="none" stroke="#2e2e2e" stroke-width="2" stroke-linecap="round" stroke-linejoin="round"><rect x="1" y="3.9" width="25.7" height="23.8" rx="2.8"/><path d="M1 12.2 H26.7 M8.2 1 V7.4 M19.5 1 V7.4"/></g></svg>
<div class="t" style="left:1767.80px;top:246px;font-size:18.1px;line-height:20px;color:#1c1c1c;letter-spacing:0.103px;">No Switch</div>
<svg class="r" style="left:2075px;top:241px" width="28" height="28" viewBox="-14 -14 28 28"><circle r="14" fill="#f26622"/><path d="M-5.2 -5.2 L5.2 5.2 M5.2 -5.2 L-5.2 5.2" stroke="#fff" stroke-width="2.8" stroke-linecap="round"/></svg>
<div class="t" style="left:1721.20px;top:306px;font-size:14.2px;line-height:16px;color:#dc7336;letter-spacing:0.447px;-webkit-text-stroke:0.20px #dc7336;">Names must have 1–64 characters.</div>
<div class="t" style="left:1721.20px;top:324px;font-size:14.2px;line-height:16px;color:#dc7336;letter-spacing:0.199px;-webkit-text-stroke:0.20px #dc7336;">Use a–z, A–Z, 0–9, spaces, - and _ are allowed.</div>
<svg class="r" style="left:1689.70px;top:203.00px;" width="455.80" height="150.60" viewBox="0 0 455.80 150.60"><rect x="1.85" y="1.85" width="452.10" height="146.90" rx="0.00" fill="none" stroke="#eb1620" stroke-width="3.70"/></svg>
<svg class="r" style="left:1668.6px;top:410.0px;" width="31.0" height="30.1" viewBox="0 0 31 30.1"><g fill="none" stroke="#0a2142" stroke-width="2.2" stroke-linecap="round" stroke-linejoin="round"><path d="M28.66 13.17 A13.9 13.9 0 1 0 13.21 28.90"/><path d="M14.9 6.3 V15 L17.9 18.8"/><g transform="translate(24 23.7) rotate(-43)" stroke-width="1.8"><path d="M-5.2 -1.6 H5.8 A1.6 1.6 0 0 1 5.8 1.6 H-5.2 L-7.9 0 Z M3.9 -1.6 V1.6"/></g></g></svg>
<div class="t" style="left:1712.50px;top:408px;font-size:19.8px;line-height:22px;color:#0a2142;letter-spacing:0.502px;-webkit-text-stroke:0.55px #0a2142;">Schedule time</div>
<svg class="r" style="left:1686.60px;top:462.90px;" width="215.80" height="113.70" viewBox="0 0 215.80 113.70"><rect x="0.70" y="0.70" width="214.40" height="112.30" rx="12.30" fill="#ffffff" stroke="#b4b7ba" stroke-width="1.40"/></svg>
<div class="t" style="left:1701.70px;top:478px;font-size:17.3px;line-height:20px;color:#0a2142;letter-spacing:0.791px;-webkit-text-stroke:0.50px #0a2142;">Start</div>
<svg class="r" style="left:1702.6px;top:508.1px;" width="30.3" height="30.3" viewBox="-15.15 -15.15 30.3 30.3"><g fill="none" stroke="#0a2142" stroke-width="2.3" stroke-linecap="round" stroke-linejoin="round"><circle cx="0" cy="0" r="14"/><path d="M0 -8.61 V1.12 L4.62 6.3"/></g></svg>
<div class="t" style="left:1755.90px;top:504px;font-size:33.2px;line-height:37px;color:#0a2142;font-weight:700;letter-spacing:1.296px;">19:00</div>
<svg class="r" style="left:1872.6px;top:554.0px;" width="16.0" height="11.0" viewBox="-8 -5.5 16 11"><path d="M-5.6 -3.2 L0 2.6 L5.6 -3.2" fill="none" stroke="#44546c" stroke-width="1.7" stroke-linecap="round" stroke-linejoin="round"/></svg>
<svg class="r" style="left:1920.00px;top:462.90px;" width="216.30" height="113.70" viewBox="0 0 216.30 113.70"><rect x="0.70" y="0.70" width="214.90" height="112.30" rx="12.30" fill="#ffffff" stroke="#b4b7ba" stroke-width="1.40"/></svg>
<div class="t" style="left:1935.10px;top:478px;font-size:17.3px;line-height:20px;color:#0a2142;letter-spacing:0.358px;-webkit-text-stroke:0.50px #0a2142;">End</div>
<svg class="r" style="left:1936.0px;top:508.1px;" width="30.3" height="30.3" viewBox="-15.15 -15.15 30.3 30.3"><g fill="none" stroke="#0a2142" stroke-width="2.3" stroke-linecap="round" stroke-linejoin="round"><circle cx="0" cy="0" r="14"/><path d="M0 -8.61 V1.12 L4.62 6.3"/></g></svg>
<div class="t" style="left:1989.30px;top:504px;font-size:33.2px;line-height:37px;color:#0a2142;font-weight:700;letter-spacing:1.146px;">07:00</div>
<svg class="r" style="left:2106.0px;top:554.0px;" width="16.0" height="11.0" viewBox="-8 -5.5 16 11"><path d="M-5.6 -3.2 L0 2.6 L5.6 -3.2" fill="none" stroke="#44546c" stroke-width="1.7" stroke-linecap="round" stroke-linejoin="round"/></svg>
<svg class="r" style="left:1677.00px;top:455.40px;" width="467.80" height="131.80" viewBox="0 0 467.80 131.80"><rect x="1.85" y="1.85" width="464.10" height="128.10" rx="0.00" fill="none" stroke="#eb1620" stroke-width="3.70"/></svg>
<div class="r" style="left:1690.3px;top:612.5px;width:50.8px;height:50.8px;background:#a273a6;border-radius:25.4px;"></div>
<div class="t" style="left:1710.20px;top:629px;font-size:16.5px;line-height:18px;color:#ffffff;font-weight:700;">S</div>
<div class="r" style="left:1755.4px;top:612.5px;width:50.8px;height:50.8px;background:#a273a6;border-radius:25.4px;"></div>
<div class="t" style="left:1773.93px;top:629px;font-size:16.5px;line-height:18px;color:#ffffff;font-weight:700;">M</div>
<div class="r" style="left:1820.7px;top:612.5px;width:50.8px;height:50.8px;background:#a273a6;border-radius:25.4px;"></div>
<div class="t" style="left:1841.06px;top:629px;font-size:16.5px;line-height:18px;color:#ffffff;font-weight:700;">T</div>
<div class="r" style="left:1886.0px;top:612.5px;width:50.8px;height:50.8px;background:#a273a6;border-radius:25.4px;"></div>
<div class="t" style="left:1903.61px;top:629px;font-size:16.5px;line-height:18px;color:#ffffff;font-weight:700;">W</div>
<div class="r" style="left:1951.1px;top:612.5px;width:50.8px;height:50.8px;background:#a273a6;border-radius:25.4px;"></div>
<div class="t" style="left:1971.46px;top:629px;font-size:16.5px;line-height:18px;color:#ffffff;font-weight:700;">T</div>
<div class="r" style="left:2016.4px;top:612.5px;width:50.8px;height:50.8px;background:#a273a6;border-radius:25.4px;"></div>
<div class="t" style="left:2036.76px;top:629px;font-size:16.5px;line-height:18px;color:#ffffff;font-weight:700;">F</div>
<div class="r" style="left:2081.7px;top:612.5px;width:50.8px;height:50.8px;background:#a273a6;border-radius:25.4px;"></div>
<div class="t" style="left:2101.60px;top:629px;font-size:16.5px;line-height:18px;color:#ffffff;font-weight:700;">S</div>
<svg class="r" style="left:1680.90px;top:604.90px;" width="461.80" height="74.90" viewBox="0 0 461.80 74.90"><rect x="1.85" y="1.85" width="458.10" height="71.20" rx="0.00" fill="none" stroke="#eb1620" stroke-width="3.70"/></svg>
<svg class="r" style="left:1666.7px;top:731.0px;" width="25.5" height="25.3" viewBox="0 0 25.5 25.3"><g fill="none" stroke="#2e2e2e" stroke-width="2.3" stroke-linecap="round" stroke-linejoin="round"><path d="M2.4 18.2 C0.2 15.4 0.6 11.4 3 9 C4.6 7.4 6.6 6.6 8.8 6.6 H17.4"/><path d="M13 1.4 L17.8 6 L13.4 9.6"/><path d="M23.2 8 C25.2 10.6 24.8 14.6 22.5 16.9 C20.9 18.5 18.9 19.3 16.7 19.3 H8"/><path d="M12.4 24 L7.6 19.6 L11.8 15.6"/></g></svg>
<div class="t" style="left:1707.20px;top:729px;font-size:19.2px;line-height:21px;color:#0a2142;letter-spacing:0.217px;-webkit-text-stroke:0.55px #0a2142;">Repeat</div>
<div class="r" style="left:2105.0px;top:736.6px;width:34.0px;height:14.0px;background:#fbd9c7;border-radius:7.0px;"></div>
<div class="r" style="left:2123.0px;top:729.6px;width:28.0px;height:28.0px;background:#ee6a23;border-radius:14.0px;box-shadow:0 1.5px 3px rgba(0,0,0,.3);"></div>
<div class="r" style="left:2192.0px;top:0.0px;width:537.0px;height:1365.0px;background:#ffffff;"></div>
<div class="r" style="left:2192px;top:0;width:537px;height:1365px;overflow:hidden"><div class="r" style="left:-2192px;top:0;width:2729px;height:1365px">
<div class="r" style="left:551.0px;top:-2.0px;width:0;height:0"><svg class="r" style="left:1667.3px;top:24.8px;" width="28.0" height="26.0" viewBox="-2 -13 28 26"><path d="M22 0 H0.8 M11 -10.5 L0.5 0 L11 10.5" fill="none" stroke="#e8692a" stroke-width="1.7" stroke-linecap="round" stroke-linejoin="round"/></svg><div class="t" style="left:1827.45px;top:24px;font-size:24.3px;line-height:27px;color:#0a2142;letter-spacing:0.891px;-webkit-text-stroke:0.75px #0a2142;">New Schedule</div><div class="t" style="left:2118.00px;top:27px;font-size:20.0px;line-height:22px;color:#e2692d;letter-spacing:-1.026px;">SAVE</div><svg class="r" style="left:1640px;top:67px" width="543" height="8" viewBox="1640 67 543 8"><rect x="1641.50" y="68.50" width="540.50" height="5.00" fill="#fbfcfc"/></svg><div class="r" style="left:1641.5px;top:153.4px;width:540.5px;height:11.0px;background:#fafbfb;"></div><div class="r" style="left:1641.5px;top:375.0px;width:540.5px;height:10.7px;background:#fafbfb;"></div><div class="r" style="left:1641.5px;top:691.6px;width:540.5px;height:10.9px;background:#fafbfb;"></div><div class="r" style="left:1641.5px;top:785.0px;width:540.5px;height:11.0px;background:#fafbfb;"></div><svg class="r" style="left:1671.0px;top:93.8px;" width="32.0" height="38.0" viewBox="-16 -12 32 38"><g fill="none" stroke="#0a2142" stroke-width="2.1"><circle cx="0" cy="0" r="6.85"/><path d="M-12.15 20.70 V19.75 A12.15 12.15 0 0 1 12.15 19.75 V20.70"/></g></svg><div class="t" style="left:1721.00px;top:100px;font-size:20.5px;line-height:23px;color:#0a2142;letter-spacing:0.094px;-webkit-text-stroke:0.60px #0a2142;">Add User Or Device (1)</div><svg class="r" style="left:2132.1px;top:104.4px;" width="11.9" height="16.2" viewBox="-2.000000 -2.000000 11.900000 16.200000"><path d="M0.5 0.5 L7.40 6.10 L0.5 11.70" fill="none" stroke="#56616f" stroke-width="2" stroke-linecap="round" stroke-linejoin="round"/></svg><svg class="r" style="left:1700.90px;top:213.30px;" width="421.30" height="82.90" viewBox="0 0 421.30 82.90"><rect x="1.65" y="1.65" width="418.00" height="79.60" rx="4.85" fill="none" stroke="#dc7336" stroke-width="3.30"/></svg><svg class="r" style="left:1716px;top:211px" width="126" height="8" viewBox="1716 211 126 8"><rect x="1717.70" y="212.00" width="122.80" height="6.00" fill="#ffffff"/></svg><div class="t" style="left:1722.70px;top:208px;font-size:14.9px;line-height:16px;color:#dc7336;letter-spacing:0.415px;">Schedule Name</div><svg class="r" style="left:1726.4px;top:240.0px;" width="27.7" height="28.7" viewBox="0 0 27.7 28.7"><g fill="none" stroke="#2e2e2e" stroke-width="2" stroke-linecap="round" stroke-linejoin="round"><rect x="1" y="3.9" width="25.7" height="23.8" rx="2.8"/><path d="M1 12.2 H26.7 M8.2 1 V7.4 M19.5 1 V7.4"/></g></svg><div class="t" style="left:1767.80px;top:246px;font-size:18.1px;line-height:20px;color:#1c1c1c;letter-spacing:0.103px;">No Switch</div><svg class="r" style="left:1851px;top:242px" width="4" height="25" viewBox="1851 242 4 25"><rect x="1852.20" y="243.30" width="1.60" height="22.00" fill="#4a4a4a"/></svg><svg class="r" style="left:2075px;top:241px" width="28" height="28" viewBox="-14 -14 28 28"><circle r="14" fill="#f26622"/><path d="M-5.2 -5.2 L5.2 5.2 M5.2 -5.2 L-5.2 5.2" stroke="#fff" stroke-width="2.8" stroke-linecap="round"/></svg><div class="t" style="left:1721.20px;top:306px;font-size:14.2px;line-height:16px;color:#dc7336;letter-spacing:0.447px;-webkit-text-stroke:0.20px #dc7336;">Names must have 1–64 characters.</div><div class="t" style="left:1721.20px;top:324px;font-size:14.2px;line-height:16px;color:#dc7336;letter-spacing:0.199px;-webkit-text-stroke:0.20px #dc7336;">Use a–z, A–Z, 0–9, spaces, - and _ are allowed.</div><svg class="r" style="left:1668.6px;top:410.0px;" width="31.0" height="30.1" viewBox="0 0 31 30.1"><g fill="none" stroke="#0a2142" stroke-width="2.2" stroke-linecap="round" stroke-linejoin="round"><path d="M28.66 13.17 A13.9 13.9 0 1 0 13.21 28.90"/><path d="M14.9 6.3 V15 L17.9 18.8"/><g transform="translate(24 23.7) rotate(-43)" stroke-width="1.8"><path d="M-5.2 -1.6 H5.8 A1.6 1.6 0 0 1 5.8 1.6 H-5.2 L-7.9 0 Z M3.9 -1.6 V1.6"/></g></g></svg><div class="t" style="left:1712.50px;top:408px;font-size:19.8px;line-height:22px;color:#0a2142;letter-spacing:0.502px;-webkit-text-stroke:0.55px #0a2142;">Schedule time</div><svg class="r" style="left:1686.60px;top:462.90px;" width="215.80" height="113.70" viewBox="0 0 215.80 113.70"><rect x="0.70" y="0.70" width="214.40" height="112.30" rx="12.30" fill="#ffffff" stroke="#b4b7ba" stroke-width="1.40"/></svg><div class="t" style="left:1701.70px;top:478px;font-size:17.3px;line-height:20px;color:#0a2142;letter-spacing:0.791px;-webkit-text-stroke:0.50px #0a2142;">Start</div><svg class="r" style="left:1702.6px;top:508.1px;" width="30.3" height="30.3" viewBox="-15.15 -15.15 30.3 30.3"><g fill="none" stroke="#0a2142" stroke-width="2.3" stroke-linecap="round" stroke-linejoin="round"><circle cx="0" cy="0" r="14"/><path d="M0 -8.61 V1.12 L4.62 6.3"/></g></svg><div class="t" style="left:1755.90px;top:504px;font-size:33.2px;line-height:37px;color:#0a2142;font-weight:700;letter-spacing:1.296px;">19:00</div><svg class="r" style="left:1872.6px;top:554.0px;" width="16.0" height="11.0" viewBox="-8 -5.5 16 11"><path d="M-5.6 -3.2 L0 2.6 L5.6 -3.2" fill="none" stroke="#44546c" stroke-width="1.7" stroke-linecap="round" stroke-linejoin="round"/></svg><svg class="r" style="left:1920.00px;top:462.90px;" width="216.30" height="113.70" viewBox="0 0 216.30 113.70"><rect x="0.70" y="0.70" width="214.90" height="112.30" rx="12.30" fill="#ffffff" stroke="#b4b7ba" stroke-width="1.40"/></svg><div class="t" style="left:1935.10px;top:478px;font-size:17.3px;line-height:20px;color:#0a2142;letter-spacing:0.358px;-webkit-text-stroke:0.50px #0a2142;">End</div><svg class="r" style="left:1936.0px;top:508.1px;" width="30.3" height="30.3" viewBox="-15.15 -15.15 30.3 30.3"><g fill="none" stroke="#0a2142" stroke-width="2.3" stroke-linecap="round" stroke-linejoin="round"><circle cx="0" cy="0" r="14"/><path d="M0 -8.61 V1.12 L4.62 6.3"/></g></svg><div class="t" style="left:1989.30px;top:504px;font-size:33.2px;line-height:37px;color:#0a2142;font-weight:700;letter-spacing:1.146px;">07:00</div><svg class="r" style="left:2106.0px;top:554.0px;" width="16.0" height="11.0" viewBox="-8 -5.5 16 11"><path d="M-5.6 -3.2 L0 2.6 L5.6 -3.2" fill="none" stroke="#44546c" stroke-width="1.7" stroke-linecap="round" stroke-linejoin="round"/></svg><div class="r" style="left:1690.3px;top:612.5px;width:50.8px;height:50.8px;background:#a273a6;border-radius:25.4px;"></div><div class="t" style="left:1710.20px;top:629px;font-size:16.5px;line-height:18px;color:#ffffff;font-weight:700;">S</div><div class="r" style="left:1755.4px;top:612.5px;width:50.8px;height:50.8px;background:#a273a6;border-radius:25.4px;"></div><div class="t" style="left:1773.93px;top:629px;font-size:16.5px;line-height:18px;color:#ffffff;font-weight:700;">M</div><div class="r" style="left:1820.7px;top:612.5px;width:50.8px;height:50.8px;background:#a273a6;border-radius:25.4px;"></div><div class="t" style="left:1841.06px;top:629px;font-size:16.5px;line-height:18px;color:#ffffff;font-weight:700;">T</div><div class="r" style="left:1886.0px;top:612.5px;width:50.8px;height:50.8px;background:#a273a6;border-radius:25.4px;"></div><div class="t" style="left:1903.61px;top:629px;font-size:16.5px;line-height:18px;color:#ffffff;font-weight:700;">W</div><div class="r" style="left:1951.1px;top:612.5px;width:50.8px;height:50.8px;background:#a273a6;border-radius:25.4px;"></div><div class="t" style="left:1971.46px;top:629px;font-size:16.5px;line-height:18px;color:#ffffff;font-weight:700;">T</div><div class="r" style="left:2016.4px;top:612.5px;width:50.8px;height:50.8px;background:#a273a6;border-radius:25.4px;"></div><div class="t" style="left:2036.76px;top:629px;font-size:16.5px;line-height:18px;color:#ffffff;font-weight:700;">F</div><div class="r" style="left:2081.7px;top:612.5px;width:50.8px;height:50.8px;background:#a273a6;border-radius:25.4px;"></div><div class="t" style="left:2101.60px;top:629px;font-size:16.5px;line-height:18px;color:#ffffff;font-weight:700;">S</div><svg class="r" style="left:1666.7px;top:731.0px;" width="25.5" height="25.3" viewBox="0 0 25.5 25.3"><g fill="none" stroke="#2e2e2e" stroke-width="2.3" stroke-linecap="round" stroke-linejoin="round"><path d="M2.4 18.2 C0.2 15.4 0.6 11.4 3 9 C4.6 7.4 6.6 6.6 8.8 6.6 H17.4"/><path d="M13 1.4 L17.8 6 L13.4 9.6"/><path d="M23.2 8 C25.2 10.6 24.8 14.6 22.5 16.9 C20.9 18.5 18.9 19.3 16.7 19.3 H8"/><path d="M12.4 24 L7.6 19.6 L11.8 15.6"/></g></svg><div class="t" style="left:1707.20px;top:729px;font-size:19.2px;line-height:21px;color:#0a2142;letter-spacing:0.217px;-webkit-text-stroke:0.55px #0a2142;">Repeat</div><div class="r" style="left:2105.0px;top:736.6px;width:34.0px;height:14.0px;background:#fbd9c7;border-radius:7.0px;"></div><div class="r" style="left:2123.0px;top:729.6px;width:28.0px;height:28.0px;background:#ee6a23;border-radius:14.0px;box-shadow:0 1.5px 3px rgba(0,0,0,.3);"></div></div>
</div></div>
<div class="r" style="left:2192.0px;top:0.0px;width:537.0px;height:1365.0px;background:rgba(0,0,0,0.595);"></div>
<div class="r" style="left:2228.2px;top:464.6px;width:467.6px;height:202.2px;background:#ffffff;border-radius:29.0px;"></div>
<div class="t" style="left:2251.60px;top:485px;font-size:26.8px;line-height:30px;color:#0a2142;font-weight:700;letter-spacing:-0.283px;">Successfully saved</div>
<div class="t" style="left:2251.40px;top:541px;font-size:20.0px;line-height:22px;color:#15263f;letter-spacing:0.609px;">The new schedule has been established.</div>
<div class="r" style="left:2550.6px;top:594.6px;width:122.3px;height:49.2px;background:#dfcfe2;border-radius:25.0px;"></div>
<div class="t" style="left:2598.40px;top:609px;font-size:20.4px;line-height:22px;color:#5a0e63;font-weight:700;letter-spacing:-0.813px;">Ok</div>
<svg class="r" style="left:2546.10px;top:589.80px;" width="131.70" height="61.00" viewBox="0 0 131.70 61.00"><rect x="1.90" y="1.90" width="127.90" height="57.20" rx="0.00" fill="none" stroke="#eb1620" stroke-width="3.80"/></svg>
</body></html>
